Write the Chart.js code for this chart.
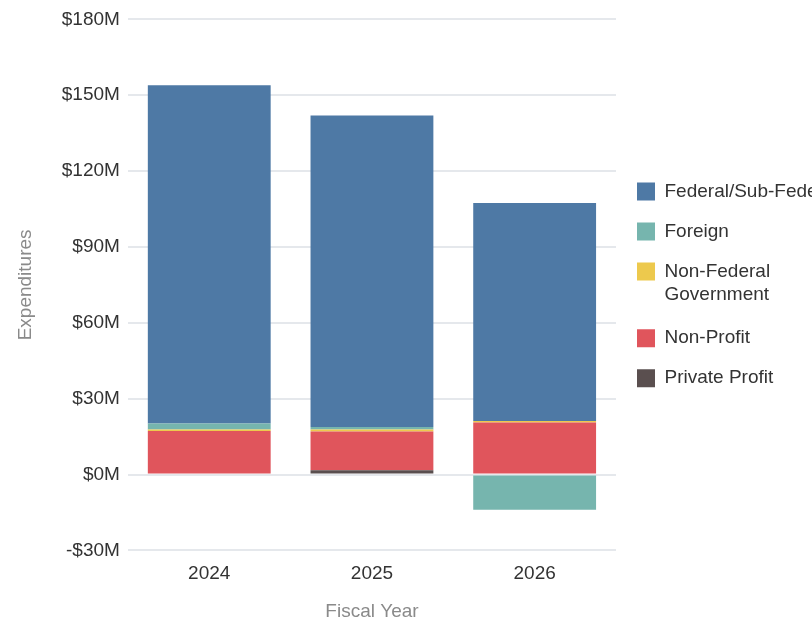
<!DOCTYPE html>
<html>
<head>
<meta charset="utf-8">
<script src="https://cdn.jsdelivr.net/npm/chart.js@4/dist/chart.umd.min.js"></script>
<style>
  html, body { margin: 0; padding: 0; background: #fff; overflow: hidden; }
  #wrap { position: relative; width: 812px; height: 620px; }
</style>
</head>
<body>
<div id="wrap"><canvas id="spendChart"></canvas></div>
<script>
// Expenditures by recipient type, $M
const years = ["2024", "2025", "2026"];
const privateProfit = [0.4, 1.7, 0];
const nonProfit = [16.8, 15.3, 20.6];
const nonFederalGov = [0.6, 0.8, 0.6];
const foreign = [2.4, 1.0, -13.9];
const federal = [133.8, 123.2, 86.2];
const yTicks = [-30, 0, 30, 60, 90, 120, 150, 180];

const legendLines = { "Non-Federal Government": ["Non-Federal", "Government"] };

const font = "'Liberation Sans', Arial, sans-serif";

const ctx = document.getElementById("spendChart");
new Chart(ctx, {
  type: "bar",
  data: {
    labels: years,
    datasets: [
      { label: "Private Profit", data: privateProfit, backgroundColor: "#5a4f4f" },
      { label: "Non-Profit", data: nonProfit, backgroundColor: "#e0555c" },
      { label: "Non-Federal Government", data: nonFederalGov, backgroundColor: "#edc94d" },
      { label: "Foreign", data: foreign, backgroundColor: "#76b5ae" },
      { label: "Federal/Sub-Federal", data: federal, backgroundColor: "#4e79a5" },
    ],
  },
  options: {
    responsive: true,
    maintainAspectRatio: false,
    animation: false,
    categoryPercentage: 1,
    barPercentage: 0.755,
    layout: { padding: { top: 18, left: 0, right: 0, bottom: 0 } },
    plugins: {
      tooltip: { enabled: false },
      legend: {
        position: "right",
        reverse: true,
        fullSize: false,
        maxWidth: 196,
        labels: {
          boxWidth: 18,
          boxHeight: 18,
          padding: 21,
          color: "#333",
          font: { family: font, size: 19 },
          generateLabels: (chart) =>
            Chart.defaults.plugins.legend.labels.generateLabels(chart).map((item) => {
              if (legendLines[item.text]) item.text = legendLines[item.text];
              item.lineWidth = 0;
              return item;
            }),
        },
      },
    },
    scales: {
      x: {
        stacked: true,
        grid: { display: false },
        border: { display: false },
        ticks: { color: "#333", font: { family: font, size: 19 }, padding: 4 },
        title: {
          display: true,
          text: "Fiscal Year",
          color: "#8a8a8a",
          font: { family: font, size: 19 },
          padding: { top: 11, bottom: -3 },
        },
      },
      y: {
        stacked: true,
        min: -30,
        max: 180,
        afterBuildTicks: (axis) => {
          axis.ticks = yTicks.map((v) => ({ value: v }));
        },
        grid: { color: "#e5e8ec", lineWidth: 2, drawTicks: false },
        border: { display: false },
        ticks: {
          color: "#333",
          padding: 8,
          font: { family: font, size: 19 },
          callback: (v) => (v < 0 ? "-$" + Math.abs(v) + "M" : "$" + v + "M"),
        },
        title: {
          display: true,
          text: "Expenditures",
          color: "#8a8a8a",
          font: { family: font, size: 19 },
          padding: { top: 14, bottom: 17 },
        },
      },
    },
  },
});
</script>
</body>
</html>
